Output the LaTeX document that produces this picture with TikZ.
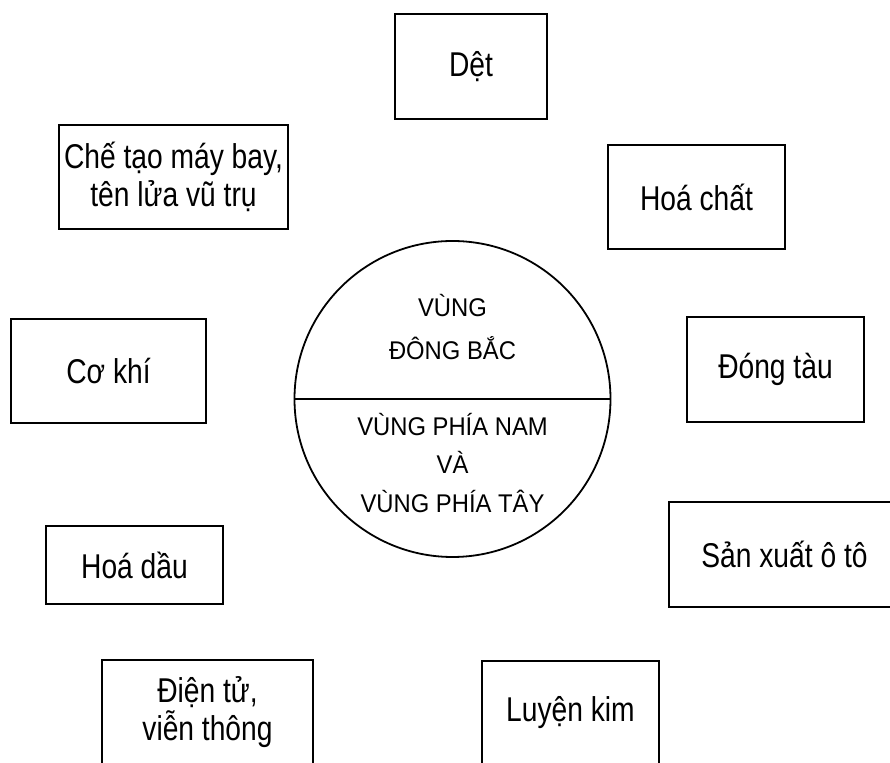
\documentclass[tikz,border=0pt]{standalone}
\usepackage{fontspec}
\setmainfont{Liberation Sans}
\newfontfamily\nganhfont[FakeStretch=0.82]{Liberation Sans}
\newfontfamily\vungfont[FakeStretch=0.93]{Liberation Sans}
\begin{document}
\begin{tikzpicture}[x=0.5pt,y=0.5pt]
        \tikzstyle{every node}+=[inner sep=0pt]
        \tikzstyle{nganh}=[draw=black, line width=1.2pt, align=center, font=\nganhfont\fontsize{17.2}{18.8}\selectfont]
        \tikzstyle{vung}=[align=center, font=\vungfont\fontsize{12.8}{19.3}\selectfont]
        \useasboundingbox (0,0) rectangle (890,-763);
        \node [draw=black, line width=0.9pt, circle, minimum size=158pt] (tron) at (452.5,-399) {};
        \draw [black, line width=0.9pt] (tron.west) -- (tron.east);
        \node [vung, font=\vungfont\fontsize{12.8}{21.5}\selectfont] (dongbac) at (452.5,-327) {VÙNG\\ĐÔNG BẮC};
        \node [vung] (namtay) at (452.5,-463) {VÙNG PHÍA NAM\\VÀ\\VÙNG PHÍA TÂY};
        \node [nganh, minimum width=76pt, minimum height=52.5pt] (det) at (471,-66.5) {Dệt};
        \node [nganh, minimum width=114.5pt, minimum height=52pt] (chetao) at (173.5,-177) {Chế tạo máy bay,\\tên lửa vũ trụ};
        \node [nganh, minimum width=88.5pt, minimum height=52pt] (hoachat) at (696.5,-197) {Hoá chất};
        \node [nganh, minimum width=97.5pt, minimum height=52pt] (cokhi) at (108.5,-371) {Cơ khí};
        \node [nganh, minimum width=88.5pt, minimum height=52.5pt] (dongtau) at (775.5,-369.5) {Đóng tàu};
        \node [nganh, minimum width=88.5pt, minimum height=39pt] (hoadau) at (134.5,-565) {Hoá dầu};
        \node [nganh, minimum width=115.5pt, minimum height=52.5pt] (oto) at (784.5,-554.5) {Sản xuất ô tô};
        \node [nganh, minimum width=105.5pt, minimum height=52pt] (dientu) at (207.5,-712) {Điện tử,\\viễn thông};
        \node [nganh, minimum width=88.5pt, minimum height=52pt] (luyenkim) at (570.5,-713) {Luyện kim};
\end{tikzpicture}
\end{document}
